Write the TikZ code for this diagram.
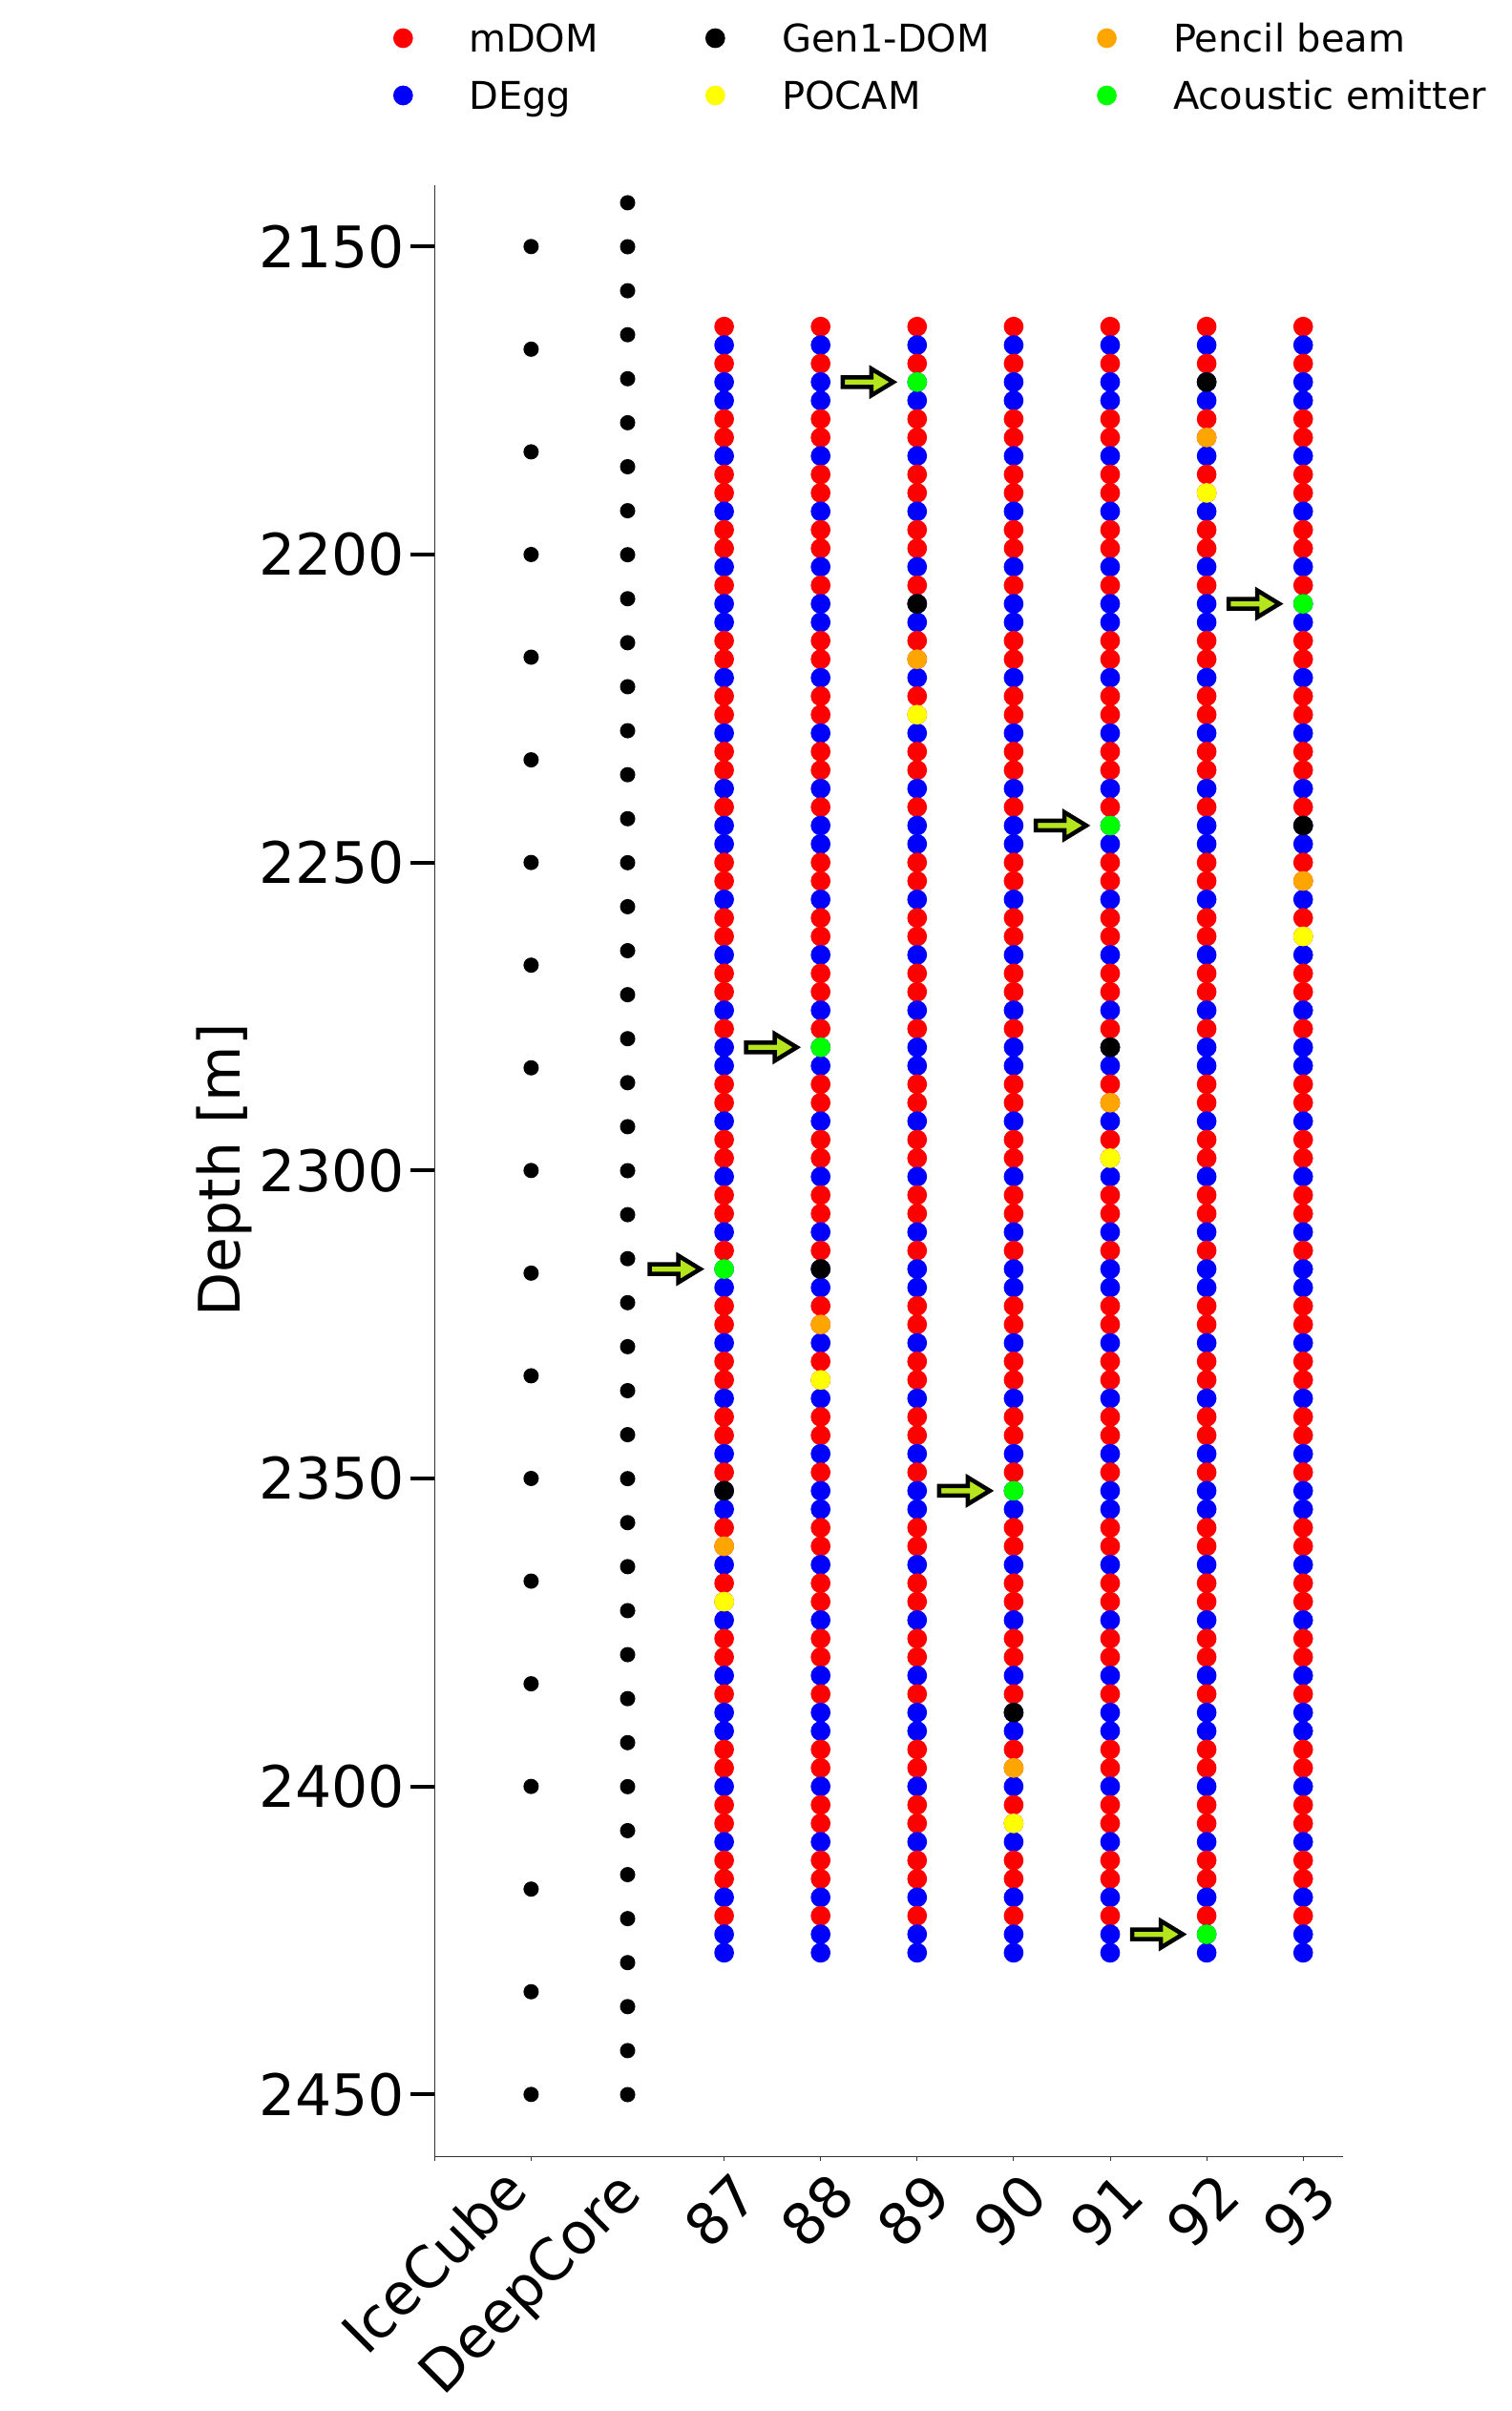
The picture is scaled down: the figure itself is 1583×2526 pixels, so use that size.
\documentclass[tikz,border=0pt]{standalone}
\usepackage{fontspec}
\setmainfont{DejaVu Sans}
\definecolor{mplred}{HTML}{FF0000}
\definecolor{mplblue}{HTML}{0000FF}
\definecolor{mplorange}{HTML}{FFA500}
\definecolor{mplyellow}{HTML}{FFFF00}
\definecolor{mplgreen}{HTML}{00FF00}
\definecolor{arrowfill}{RGB}{181,230,29}
\newcommand\basecol[1]{\ifcase#1 mplred\or mplblue\or mplred\or mplblue\or mplblue\or mplred\or mplred\or mplblue\or mplred\or mplred\or mplblue\or mplred\fi}
\begin{document}
\begin{tikzpicture}[x=1pt,y=-1pt,
  ticklab/.style={font=\fontsize{60}{72}\selectfont, inner sep=0pt},
  leglab/.style={font=\fontsize{40}{48}\selectfont, inner sep=0pt, anchor=base west},
  spineline/.style={draw=black!80, line width=1.3pt},
  ytickline/.style={draw=black, line width=4pt},
  xtickline/.style={draw=black!80, line width=1pt},
  emitarrow/.style={draw=black, line width=4.5pt, fill=arrowfill, line join=miter, miter limit=10},
]
\useasboundingbox (0,0) rectangle (1583,2526);

% ---------- legend ----------
\fill[mplred]    (422.3,40)  circle[radius=10.35];
\fill[mplblue]   (422.3,100) circle[radius=10.35];
\fill[black]     (749.3,40)  circle[radius=10.35];
\fill[mplyellow] (749.3,100) circle[radius=10.35];
\fill[mplorange] (1159.5,40)  circle[radius=10.35];
\fill[mplgreen]  (1159.5,100) circle[radius=10.35];
\node[leglab] (lgA) at (491,54.3)  {mDOM};
\node[leglab] (lgB) at (491,114.3) {DEgg};
\node[leglab] (lgC) at (819,54.3)  {Gen1-DOM};
\node[leglab] (lgD) at (819,114.3) {POCAM};
\node[leglab] (lgE) at (1229,54.3)  {Pencil beam};
\node[leglab] (lgF) at (1229,114.3) {Acoustic emitter};

% ---------- axes ----------
\coordinate (O) at (455.3,2259.3);
\coordinate (Ytop) at (455.3,194);
\coordinate (Xend) at (1406.7,2259.3);
\draw[spineline] (Ytop) -- (O) -- (Xend);

\foreach \j/\lab in {0/2150,1/2200,2/2250,3/2300,4/2350,5/2400,6/2450} {
  \pgfmathsetmacro\yt{258.3+322.67*\j}
  \draw[ytickline] (430,\yt) -- (455.3,\yt);
  \node[ticklab, anchor=east] (yl\j) at (424,\yt) {\lab};
}
\foreach \xx in {455.3,556.4,758.6,859.7,960.8,1061.9,1163.0,1264.1,1365.2}
  \draw[xtickline] (\xx,2259.3) -- (\xx,2263.5);

\node[ticklab, rotate=45] (xlIce) at (454,2368) {IceCube};
\node[ticklab, rotate=45] (xlDeep) at (558,2395) {DeepCore};
\foreach \k/\t in {3/87,4/88,5/89,6/90,7/91,8/92,9/93}
  \node[ticklab, rotate=45] (xl\t) at ({455.3+101.1*\k-4},2316) {\t};

\node[ticklab, rotate=90] (ylab) at (235,1226) {Depth [m]};

% ---------- IceCube and DeepCore ----------
\foreach \k in {0,...,18}
  \fill[black] (556.4,{258.3+107.555*\k}) circle[radius=8];
\foreach \k in {0,...,43}
  \fill[black] (657.5,{2194.5-46.095*\k}) circle[radius=8];

% ---------- Upgrade strings ----------
\foreach \k/\kk/\gg in {3/63/51, 4/51/39, 5/15/3, 6/75/63, 7/39/27, 8/3/87, 9/27/15} {
  \pgfmathsetmacro\xs{455.3+101.1*\k}
  \foreach \i in {0,...,88} {
    \pgfmathtruncatemacro\m{mod(\i,12)}
    \edef\dotcol{\basecol{\m}}
    \pgfmathsetmacro\ys{342.2+19.36*\i}
    \fill[\dotcol] (\xs,\ys) circle[radius=10.35];
  }
  \pgfmathsetmacro\yk{342.2+19.36*\kk}
  \pgfmathsetmacro\yo{342.2+19.36*(\kk+3)}
  \pgfmathsetmacro\yy{342.2+19.36*(\kk+6)}
  \pgfmathsetmacro\yg{342.2+19.36*\gg}
  \fill[black] (\xs,\yk) circle[radius=10.35];
  \fill[mplorange] (\xs,\yo) circle[radius=10.35];
  \fill[mplyellow] (\xs,\yy) circle[radius=10.35];
  \fill[mplgreen] (\xs,\yg) circle[radius=10.35];
  \draw[emitarrow] ({\xs-78},{\yg-5}) -- ({\xs-48},{\yg-5}) -- ({\xs-48},{\yg-14})
     -- ({\xs-25},\yg) -- ({\xs-48},{\yg+14}) -- ({\xs-48},{\yg+5}) -- ({\xs-78},{\yg+5}) -- cycle;
}
\end{tikzpicture}
\end{document}
